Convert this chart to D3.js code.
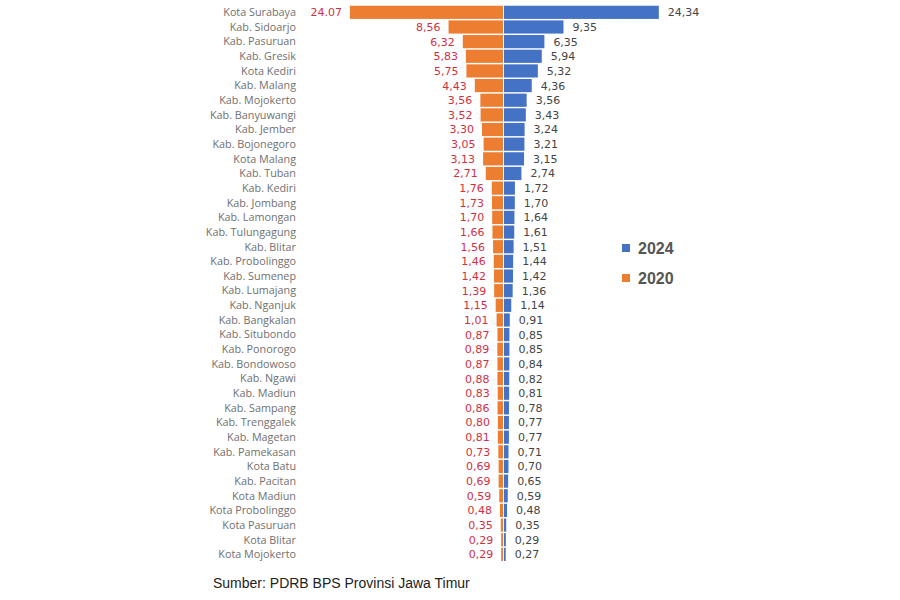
<!DOCTYPE html>
<html>
<head>
<meta charset="utf-8">
<script src="https://cdn.jsdelivr.net/npm/d3@7"></script>
<style>
  body { margin: 0; background: #fff; }
  svg { display: block; }
</style>
</head>
<body>
<div id="chart"></div>
<script>
// PDRB share per kab/kota, Jawa Timur
const regions = [
    "Kota Surabaya", "Kab. Sidoarjo", "Kab. Pasuruan", "Kab. Gresik", "Kota Kediri",
    "Kab. Malang", "Kab. Mojokerto", "Kab. Banyuwangi", "Kab. Jember", "Kab. Bojonegoro",
    "Kota Malang", "Kab. Tuban", "Kab. Kediri", "Kab. Jombang", "Kab. Lamongan",
    "Kab. Tulungagung", "Kab. Blitar", "Kab. Probolinggo", "Kab. Sumenep", "Kab. Lumajang",
    "Kab. Nganjuk", "Kab. Bangkalan", "Kab. Situbondo", "Kab. Ponorogo", "Kab. Bondowoso",
    "Kab. Ngawi", "Kab. Madiun", "Kab. Sampang", "Kab. Trenggalek", "Kab. Magetan",
    "Kab. Pamekasan", "Kota Batu", "Kab. Pacitan", "Kota Madiun", "Kota Probolinggo",
    "Kota Pasuruan", "Kota Blitar", "Kota Mojokerto"
];
const values2020 = [
    24.07, 8.56, 6.32, 5.83, 5.75, 4.43, 3.56, 3.52, 3.30, 3.05,
    3.13, 2.71, 1.76, 1.73, 1.70, 1.66, 1.56, 1.46, 1.42, 1.39,
    1.15, 1.01, 0.87, 0.89, 0.87, 0.88, 0.83, 0.86, 0.80, 0.81,
    0.73, 0.69, 0.69, 0.59, 0.48, 0.35, 0.29, 0.29
];
const values2024 = [
    24.34, 9.35, 6.35, 5.94, 5.32, 4.36, 3.56, 3.43, 3.24, 3.21,
    3.15, 2.74, 1.72, 1.70, 1.64, 1.61, 1.51, 1.44, 1.42, 1.36,
    1.14, 0.91, 0.85, 0.85, 0.84, 0.82, 0.81, 0.78, 0.77, 0.77,
    0.71, 0.70, 0.65, 0.59, 0.48, 0.35, 0.29, 0.27
];
const years = ["2024", "2020"];
const dotLabels2020 = ["Kota Surabaya"]; // the source writes this one with a point
const sourceText = "Sumber: PDRB BPS Provinsi Jawa Timur";

const width = 900, height = 600;
const centerX = 503.5;
const halfWidth = 159;
const colors = {"2024": "#4472c4", "2020": "#ed7d31"};

const rows = regions.map((r, i) => ({region: r, v2020: values2020[i], v2024: values2024[i]}));

const svg = d3.select("#chart").append("svg")
    .attr("width", width)
    .attr("height", height);

let y = d3.scaleBand()
    .domain(regions)
    .range([5, 561.7])
    .paddingInner(0.1)
    .paddingOuter(0.05);

let xRight = d3.scaleLinear().domain([0, 25]).range([centerX + 0.5, centerX + 0.5 + halfWidth]);
let xLeft = d3.scaleLinear().domain([0, 25]).range([centerX - 0.5, centerX - 0.5 - halfWidth]);

const fmt = v => v.toFixed(2).replace(".", ",");

// orange bars (2020) to the left
svg.append("g").selectAll("rect")
    .data(rows)
    .enter()
    .append("rect")
        .attr("x", d => xLeft(d.v2020))
        .attr("y", d => y(d.region))
        .attr("width", d => xLeft(0) - xLeft(d.v2020))
        .attr("height", y.bandwidth())
        .attr("fill", colors["2020"]);

// blue bars (2024) to the right
svg.append("g").selectAll("rect")
    .data(rows)
    .enter()
    .append("rect")
        .attr("x", xRight(0))
        .attr("y", d => y(d.region))
        .attr("width", d => xRight(d.v2024) - xRight(0))
        .attr("height", y.bandwidth())
        .attr("fill", colors["2024"]);

// region names
svg.append("g").selectAll("text")
    .data(rows)
    .enter()
    .append("text")
        .attr("x", 296)
        .attr("y", d => y(d.region) + y.bandwidth() / 2)
        .attr("dy", "0.35em")
        .attr("text-anchor", "end")
        .style("font-family", "'Open Sans', sans-serif")
        .style("font-size", "10.8px")
        .style("fill", "#707070")
        .text(d => d.region);

// 2020 value labels
svg.append("g").selectAll("text")
    .data(rows)
    .enter()
    .append("text")
        .attr("x", d => xLeft(d.v2020) - 8)
        .attr("y", d => y(d.region) + y.bandwidth() / 2)
        .attr("dy", "0.36em")
        .attr("text-anchor", "end")
        .style("font-family", "'DejaVu Sans', sans-serif")
        .style("font-size", "11px")
        .style("fill", "#d2303f")
        .text(d => dotLabels2020.includes(d.region) ? d.v2020.toFixed(2) : fmt(d.v2020));

// 2024 value labels
svg.append("g").selectAll("text")
    .data(rows)
    .enter()
    .append("text")
        .attr("x", d => xRight(d.v2024) + 9)
        .attr("y", d => y(d.region) + y.bandwidth() / 2)
        .attr("dy", "0.36em")
        .style("font-family", "'DejaVu Sans', sans-serif")
        .style("font-size", "11px")
        .style("fill", "#444")
        .text(d => fmt(d.v2024));

// legend
let legend = svg.append("g")
    .attr("transform", "translate(622,248)");

legend.selectAll("rect")
    .data(years)
    .enter()
    .append("rect")
        .attr("x", 0)
        .attr("y", (d, i) => i * 30 - 4)
        .attr("width", 8)
        .attr("height", 8)
        .attr("fill", d => colors[d]);

legend.selectAll("text")
    .data(years)
    .enter()
    .append("text")
        .attr("x", 16)
        .attr("y", (d, i) => i * 30)
        .attr("dy", "0.35em")
        .style("font-family", "'Liberation Sans', Arial, sans-serif")
        .style("font-size", "16px")
        .style("font-weight", "bold")
        .style("fill", "#555")
        .text(d => d);

// source
svg.append("text")
    .attr("x", 213)
    .attr("y", 588)
    .style("font-family", "'Liberation Sans', Arial, sans-serif")
    .style("font-size", "14px")
    .style("fill", "#222")
    .text(sourceText);
</script>
</body>
</html>
